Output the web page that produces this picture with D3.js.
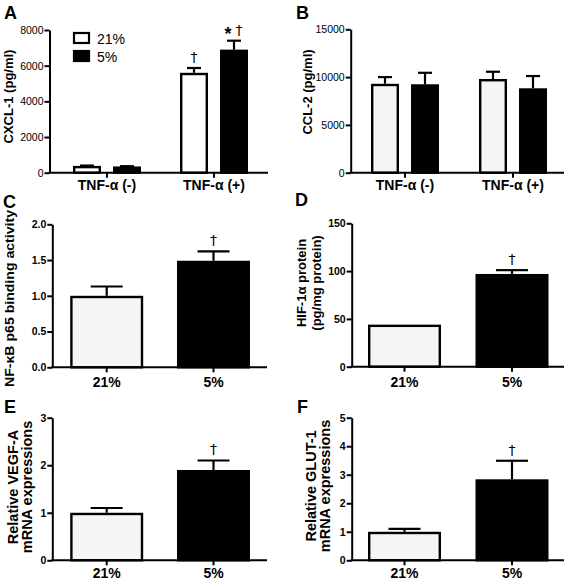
<!DOCTYPE html>
<html><head><meta charset="utf-8">
<script src="https://cdn.jsdelivr.net/npm/d3@7"></script>
<style>
html,body{margin:0;padding:0;background:#fff;}
svg{display:block;font-family:"Liberation Sans",Arial,Helvetica,sans-serif;}
</style></head>
<body>
<svg id="chart" width="567" height="581"></svg>
<script>
// ---------- DATA ----------
const seriesNames = ["21%", "5%"];
const tnfCategories = ["TNF-α (-)", "TNF-α (+)"];
const o2Categories = ["21%", "5%"];

// Panel A: CXCL-1 (pg/ml)
const cxcl1_21 = [380, 5600];
const cxcl1_21_err = [20, 270];
const cxcl1_5 = [350, 6900];
const cxcl1_5_err = [15, 500];
const cxcl1Ticks = [0, 2000, 4000, 6000, 8000];

// Panel B: CCL-2 (pg/ml)
const ccl2_21 = [9300, 9800];
const ccl2_21_err = [700, 760];
const ccl2_5 = [9250, 8830];
const ccl2_5_err = [1200, 1280];
const ccl2Ticks = [0, 5000, 10000, 15000];

// Panel C: NF-κB p65 binding activity
const nfkb = [1.0, 1.49];
const nfkb_err = [0.13, 0.13];
const nfkbTicks = [0, 0.5, 1.0, 1.5, 2.0];

// Panel D: HIF-1α protein (pg/mg protein)
const hif = [44, 97];
const hif_err = [0, 4];
const hifTicks = [0, 50, 100, 150];

// Panel E: Relative VEGF-A mRNA expressions
const vegf = [1.0, 1.9];
const vegf_err = [0.1, 0.2];
const vegfTicks = [0, 1, 2, 3];

// Panel F: Relative GLUT-1 mRNA expressions
const glut = [1.0, 2.84];
const glut_err = [0.1, 0.65];
const glutTicks = [0, 1, 2, 3, 4, 5];

// ---------- DRAW ----------
const svg = d3.select("#chart");
const FILL_LIGHT = "#f5f5f5";
const FONT = '"Liberation Sans",Arial,sans-serif';

function styleAxis(g, bold, fs) {
  g.select(".domain").attr("stroke", "#000").attr("stroke-width", 2);
  g.selectAll(".tick line").attr("stroke", "#000").attr("stroke-width", 2);
  g.selectAll(".tick text").attr("fill", "#000")
    .style("font-size", fs + "px").style("font-weight", bold ? "bold" : "normal")
    .style("font-family", FONT);
}

// p.bars: [{cat, v, e, fill, off}]
function drawPanel(p) {
  const g = svg.append("g");
  const y = d3.scaleLinear().domain([0, p.ticks[p.ticks.length - 1]]).range([p.y1, p.y0]);
  const x = d3.scalePoint().domain(p.categories).range(p.centers);

  const ya = g.append("g").attr("transform", `translate(${p.x0},0)`)
    .call(d3.axisLeft(y).tickValues(p.ticks).tickSize(5).tickSizeOuter(0).tickPadding(1)
      .tickFormat(p.fmt));
  styleAxis(ya, p.boldTicks, p.tickFs);

  p.bars.forEach(b => {
    const cx = x(b.cat) + b.off;
    if (b.e > 0) {
      g.append("line").attr("x1", cx).attr("x2", cx)
        .attr("y1", y(b.v)).attr("y2", y(b.v + b.e))
        .attr("stroke", "#000").attr("stroke-width", 2.2);
      g.append("line").attr("x1", cx - p.capW / 2).attr("x2", cx + p.capW / 2)
        .attr("y1", y(b.v + b.e)).attr("y2", y(b.v + b.e))
        .attr("stroke", "#000").attr("stroke-width", 2.2);
    }
    g.append("rect")
      .attr("x", cx - p.barW / 2 + 1.2).attr("width", p.barW - 2.4)
      .attr("y", y(b.v) + 1.2).attr("height", Math.max(0, y(0) - y(b.v) - 1.2))
      .attr("fill", b.fill).attr("stroke", "#000").attr("stroke-width", 2.4);
    (b.annots || []).forEach(a => {
      g.append("text").attr("x", cx + (a.dx || 0)).attr("y", y(b.v + b.e) - a.gap)
        .attr("text-anchor", "middle").attr("fill", "#000")
        .style("font-family", a.t === "*" ? FONT : '"DejaVu Sans",sans-serif')
        .style("font-size", (a.fs || 13) + "px")
        .style("font-weight", a.bold ? "bold" : "normal").text(a.t);
    });
  });

  const xa = g.append("g").attr("transform", `translate(0,${p.y1})`);
  xa.append("line").attr("x1", p.x0 - 1).attr("x2", p.x1).attr("y1", 0).attr("y2", 0)
    .attr("stroke", "#000").attr("stroke-width", 2);
  p.categories.forEach(c => {
    xa.append("line").attr("x1", x(c)).attr("x2", x(c)).attr("y1", 0).attr("y2", 5)
      .attr("stroke", "#000").attr("stroke-width", 2);
    xa.append("text").attr("x", x(c)).attr("y", p.catY - p.y1)
      .attr("text-anchor", "middle").style("font-size", "14px").style("font-weight", "bold")
      .text(c);
  });

  p.ytitle.forEach((t, i) => {
    const tt = g.append("text")
      .attr("transform", `translate(${p.ytx[i]},${p.ytCy}) rotate(-90)`)
      .attr("text-anchor", "middle").attr("dominant-baseline", "central")
      .style("font-size", p.ytFs + "px").style("font-weight", "bold").text(t);
    if (p.ytLen) tt.attr("textLength", p.ytLen[i]).attr("lengthAdjust", "spacingAndGlyphs");
  });

  g.append("text").attr("x", p.letterX).attr("y", p.letterY)
    .style("font-size", "18px").style("font-weight", "bold").text(p.letter);
  return { g, x, y };
}

const groupBand = d3.scaleBand().domain(seriesNames).range([-34, 34]).paddingInner(0.3);
const groupOffset = s => groupBand(s) + groupBand.bandwidth() / 2;

function groupedBars(cats, s21, e21, s5, e5, fill21, annots) {
  const out = [];
  cats.forEach((c, i) => {
    out.push({ cat: c, v: s21[i], e: e21[i], fill: fill21, off: groupOffset("21%"), annots: (annots[i] || [])[0] });
    out.push({ cat: c, v: s5[i], e: e5[i], fill: "#000", off: groupOffset("5%"), annots: (annots[i] || [])[1] });
  });
  return out;
}

// Panel A
const pA = drawPanel({
  letter: "A", letterX: 4, letterY: 19,
  x0: 49.5, x1: 268, y0: 30, y1: 172.7, centers: [107, 214],
  categories: tnfCategories, ticks: cxcl1Ticks, fmt: d3.format("d"),
  boldTicks: false, tickFs: 10.5,
  bars: groupedBars(tnfCategories, cxcl1_21, cxcl1_21_err, cxcl1_5, cxcl1_5_err, "#ffffff",
    [null, [[{ t: "†", gap: 6, fs: 14 }],
            [{ t: "*", gap: 1, fs: 18, bold: true, dx: -6 }, { t: "†", gap: 6, fs: 14, dx: 5 }]]]),
  barW: 28, capW: 14, catY: 190,
  ytitle: ["CXCL-1 (pg/ml)"], ytx: [8], ytCy: 96.5, ytFs: 13
});
const legend = pA.g.append("g");
seriesNames.forEach((s, i) => {
  legend.append("rect").attr("x", 74).attr("y", 33 + i * 18).attr("width", 15).attr("height", 10)
    .attr("fill", i === 0 ? "#fff" : "#000").attr("stroke", "#000").attr("stroke-width", 2.2);
  legend.append("text").attr("x", 97).attr("y", 43.5 + i * 18)
    .style("font-size", "14px").text(s);
});

// Panel B
drawPanel({
  letter: "B", letterX: 296, letterY: 19,
  x0: 350.7, x1: 564, y0: 29.3, y1: 172.7, centers: [405, 513],
  categories: tnfCategories, ticks: ccl2Ticks, fmt: d3.format("d"),
  boldTicks: false, tickFs: 10.5,
  bars: groupedBars(tnfCategories, ccl2_21, ccl2_21_err, ccl2_5, ccl2_5_err, FILL_LIGHT, []),
  barW: 28, capW: 14, catY: 190,
  ytitle: ["CCL-2 (pg/ml)"], ytx: [307], ytCy: 92, ytFs: 13
});

function singleBars(vals, errs) {
  return o2Categories.map((c, i) => ({
    cat: c, v: vals[i], e: errs[i], fill: i === 0 ? FILL_LIGHT : "#000", off: 0,
    annots: i === 1 ? [{ t: "†", gap: 6, fs: 14 }] : []
  }));
}
const singleCommon = { categories: o2Categories, boldTicks: true, tickFs: 10.5, barW: 73, capW: 32 };

drawPanel(Object.assign({}, singleCommon, {
  letter: "C", letterX: 3, letterY: 208,
  x0: 52.3, x1: 267, y0: 224.3, y1: 367.3, centers: [106.7, 213.5],
  ticks: nfkbTicks, fmt: d3.format(".1f"), bars: singleBars(nfkb, nfkb_err), catY: 387,
  ytitle: ["NF-κB p65 binding activity"], ytx: [9], ytCy: 298.5, ytFs: 13.5, ytLen: [177]
}));
drawPanel(Object.assign({}, singleCommon, {
  letter: "D", letterX: 295, letterY: 206,
  x0: 351.7, x1: 564, y0: 223.3, y1: 366.7, centers: [404.5, 512],
  ticks: hifTicks, fmt: d3.format("d"), bars: singleBars(hif, hif_err), catY: 387,
  ytitle: ["HIF-1α protein", "(pg/mg protein)"], ytx: [301, 316], ytCy: 283, ytFs: 13
}));
drawPanel(Object.assign({}, singleCommon, {
  letter: "E", letterX: 4, letterY: 413,
  x0: 52.3, x1: 267, y0: 417.7, y1: 560.3, centers: [106.7, 213.5],
  ticks: vegfTicks, fmt: d3.format("d"), bars: singleBars(vegf, vegf_err), catY: 578,
  ytitle: ["Relative VEGF-A", "mRNA expressions"], ytx: [12.5, 26.5], ytCy: 487, ytFs: 14.5
}));
drawPanel(Object.assign({}, singleCommon, {
  letter: "F", letterX: 297, letterY: 413,
  x0: 351.7, x1: 564, y0: 417.7, y1: 560.3, centers: [404.5, 512],
  ticks: glutTicks, fmt: d3.format("d"), bars: singleBars(glut, glut_err), catY: 578,
  ytitle: ["Relative GLUT-1", "mRNA expressions"], ytx: [311, 325], ytCy: 486, ytFs: 14.5
}));
</script>
</body></html>
